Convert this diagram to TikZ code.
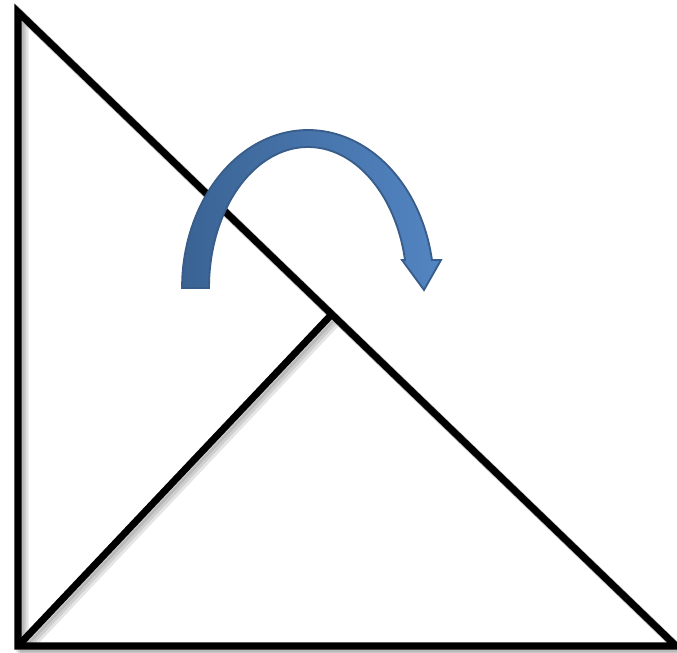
\documentclass[tikz,border=0pt]{standalone}
\definecolor{arrowdark}{HTML}{3A6394}
\definecolor{arrowlight}{HTML}{5385C2}
\definecolor{arrowline}{HTML}{385D8A}
\begin{document}
\begin{tikzpicture}[x=0.025cm, y=-0.025cm,
    side/.style={line width=5pt, black, line join=miter},
    haze/.style={line width=6pt, black, opacity=0.1, line join=miter},
    turn/.style={draw=arrowline, line width=1.3pt, left color=arrowdark, right color=arrowlight}]
\useasboundingbox (0,0) rectangle (677,652);
% corners of the triangle
\coordinate (top) at (18,12);
\coordinate (low) at (18,646);
\coordinate (far) at (676,646);
\coordinate (mid) at (332,314);
% soft shadow
\foreach \s in {1.5,3,4.5} {
    \draw[haze, transform canvas={xshift=\s pt, yshift=-\s pt}] (top) -- (low) -- (far) -- cycle (low) -- (mid);
}
\draw[side] (top) -- (low) -- (far) -- cycle;
\draw[side] (low) -- (mid);
% curved arrow
\draw[turn] plot[domain=180:349.8, smooth, samples=40] ({308+126*cos(\x)}, {288+158*sin(\x)})
    -- (441,260) -- (424,290) -- (402,260)
    -- plot[domain=348.5:180, smooth, samples=40] ({308+99*cos(\x)}, {288+141*sin(\x)}) -- cycle;
\end{tikzpicture}
\end{document}
